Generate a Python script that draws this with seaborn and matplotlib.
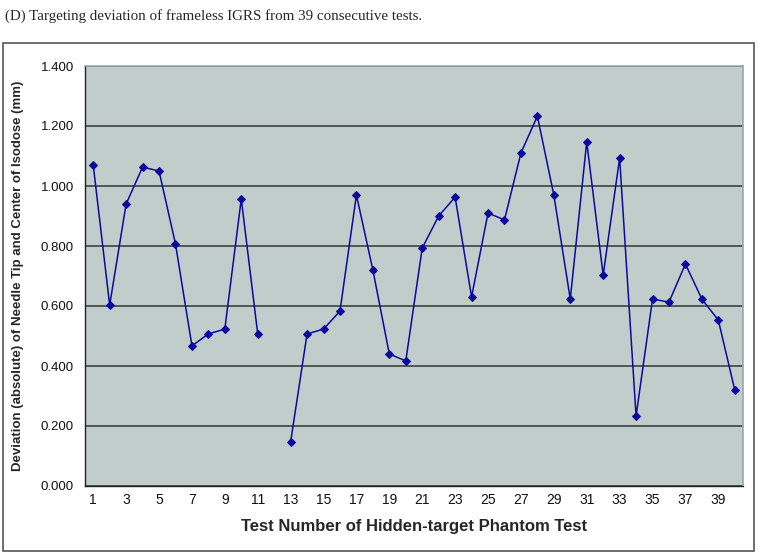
import numpy as np
import pandas as pd
import seaborn as sns
from matplotlib import pyplot as plt
from matplotlib.patches import Rectangle
from matplotlib.ticker import FixedLocator, FormatStrFormatter

# test number 12 has no value
test_no = list(range(1, 12)) + list(range(13, 41))
deviation = [1.070, 0.603, 0.940, 1.063, 1.050, 0.807, 0.467, 0.507, 0.523, 0.957, 0.507,
             0.147, 0.507, 0.523, 0.583, 0.970, 0.720, 0.440, 0.417, 0.793, 0.900,
             0.963, 0.630, 0.910, 0.887, 1.110, 1.233, 0.970, 0.623, 1.147, 0.703,
             1.093, 0.233, 0.623, 0.613, 0.740, 0.623, 0.553, 0.320]
segment = [1] * 11 + [2] * 28

df = pd.DataFrame({"test": test_no, "dev": deviation, "seg": segment})

sns.set_style("white")
plt.rcParams['font.family'] = ['Liberation Sans', 'DejaVu Sans']

fig = plt.figure(figsize=(7.58, 5.55), dpi=100)
ax = fig.add_axes([85 / 758, 1 - 486 / 555, (743 - 85) / 758, (486 - 66) / 555])

# outer chart frame
fig.patches.append(Rectangle((3 / 758, 1 - 551 / 555), 751 / 758, 508 / 555,
                             transform=fig.transFigure, fill=False,
                             edgecolor="#555555", lw=1.2, zorder=0))

ax.set_facecolor("#c1cdcb")
sns.lineplot(data=df, x="test", y="dev", units="seg", estimator=None,
             color="#0a0a9c", lw=1.1, marker="D", markersize=4.5,
             markeredgecolor="#0a0a9c", ax=ax)

ax.set_xlim(0.5, 40.5)
ax.set_ylim(0, 1.4)
ax.set_yticks(np.arange(0, 1.41, 0.2))
ax.yaxis.set_major_formatter(FormatStrFormatter("%.3f"))
ax.set_xticks(range(1, 40, 2))
ax.xaxis.set_minor_locator(FixedLocator(np.arange(0.5, 41, 1)))
ax.tick_params(axis="x", which="major", length=0, pad=5, labelsize=10, colors="#111111")
ax.tick_params(axis="x", which="minor", length=4, direction="out", color="#222222")
ax.tick_params(axis="y", length=4, direction="out", color="#222222", labelsize=9.5,
               labelcolor="#111111", pad=4)
ax.yaxis.grid(True, color="#4b4b4b", lw=1.3)
ax.set_axisbelow(True)

for side in ["top", "right"]:
    ax.spines[side].set_color("#9aa8a6")
    ax.spines[side].set_linewidth(1.2)
for side in ["left", "bottom"]:
    ax.spines[side].set_color("#222222")
    ax.spines[side].set_linewidth(1.0)

ax.set_xlabel("Test Number of Hidden-target Phantom Test", fontsize=12, fontweight="bold",
              labelpad=9)
ax.set_ylabel("Deviation (absolute) of Needle Tip and Center of Isodose (mm)", fontsize=9.5,
              fontweight="bold", labelpad=12)

fig.text(5 / 758, 1 - 16 / 555, "(D) Targeting deviation of frameless IGRS from 39 consecutive tests.",
         family=["Liberation Serif", "DejaVu Serif"], fontsize=10.8, va="center", ha="left")

fig.savefig("out.png", dpi=100)
